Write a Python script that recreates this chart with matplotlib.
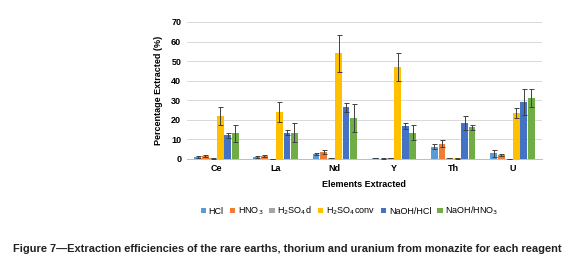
import matplotlib
matplotlib.use("Agg")
import matplotlib.pyplot as plt
import numpy as np

categories = ["Ce", "La", "Nd", "Y", "Th", "U"]
series = ["HCl", "HNO$_3$", "H$_2$SO$_4$d", "H$_2$SO$_4$conv", "NaOH/HCl", "NaOH/HNO$_3$"]
colors = ["#5B9BD5", "#ED7D31", "#A5A5A5", "#FFC000", "#4472C4", "#70AD47"]

hcl      = [1.0, 1.0, 2.5, 0.5, 6.2, 2.8]
hno3     = [1.5, 1.5, 3.5, 0.2, 7.8, 1.9]
h2so4d   = [0.3, 0.1, 0.5, 0.5, 0.5, 0.0]
h2so4c   = [22.0, 24.0, 54.0, 47.0, 0.3, 23.4]
naoh_hcl = [12.0, 13.5, 26.5, 17.0, 18.3, 29.1]
naoh_hno3 = [13.0, 13.5, 21.0, 13.5, 16.2, 31.0]

err_hcl      = [0.3, 0.3, 0.7, 0.2, 1.2, 2.0]
err_hno3     = [0.5, 0.6, 1.2, 0.1, 1.9, 0.4]
err_h2so4d   = [0.1, 0.1, 0.2, 0.1, 0.2, 0.0]
err_h2so4c   = [4.5, 5.0, 9.5, 7.0, 0.1, 2.6]
err_naoh_hcl = [1.2, 1.5, 2.3, 1.5, 3.4, 6.5]
err_naoh_hno3 = [4.5, 5.0, 7.0, 4.0, 1.2, 4.5]

values = [hcl, hno3, h2so4d, h2so4c, naoh_hcl, naoh_hno3]
errors = [err_hcl, err_hno3, err_h2so4d, err_h2so4c, err_naoh_hcl, err_naoh_hno3]

plt.rcParams['font.family'] = ['Liberation Sans', 'DejaVu Sans']

fig = plt.figure(figsize=(5.73, 2.68), dpi=100)
ax = fig.add_axes([0.326, 0.407, 0.62, 0.511])

x = np.arange(len(categories))
bw = 0.127
for i, (vals, errs, c, lab) in enumerate(zip(values, errors, colors, series)):
    off = (i - 2.5) * bw
    ax.bar(x + off, vals, width=bw * 0.9, color=c, label=lab, zorder=3,
           yerr=errs, error_kw=dict(ecolor="#404040", elinewidth=0.7, capsize=1.8, capthick=0.7, zorder=4))

ax.set_xlim(-0.5, 5.5)
ax.set_ylim(0, 70)
ax.set_yticks(range(0, 71, 10))
ax.yaxis.grid(True, color="#D9D9D9", linewidth=0.7, zorder=0)
ax.set_xticks(x)
ax.set_xticklabels(categories, fontsize=6.5, fontweight="bold")
for t in ax.get_yticklabels():
    t.set_fontsize(6.5)
    t.set_fontweight("bold")
ax.tick_params(length=0, pad=4)
for s in ["top", "right", "left"]:
    ax.spines[s].set_visible(False)
ax.spines["bottom"].set_color("#BFBFBF")
ax.spines["bottom"].set_linewidth(0.7)
ax.set_ylabel("Percentage Extracted (%)", fontsize=6.5, fontweight="bold", labelpad=6)
ax.set_xlabel("Elements Extracted", fontsize=6.5, fontweight="bold", labelpad=5)

fig.legend(loc="center", bbox_to_anchor=(0.61, 0.213), ncol=6, fontsize=6.5, frameon=False,
           handlelength=0.6, handleheight=0.6, handletextpad=0.3, columnspacing=0.65)

fig.text(0.502, 0.07, "Figure 7\u2014Extraction efficiencies of the rare earths, thorium and uranium from monazite for each reagent",
         ha="center", va="center", fontsize=7.9, fontweight="bold", color="#222222")

fig.savefig("out.png", dpi=100)
